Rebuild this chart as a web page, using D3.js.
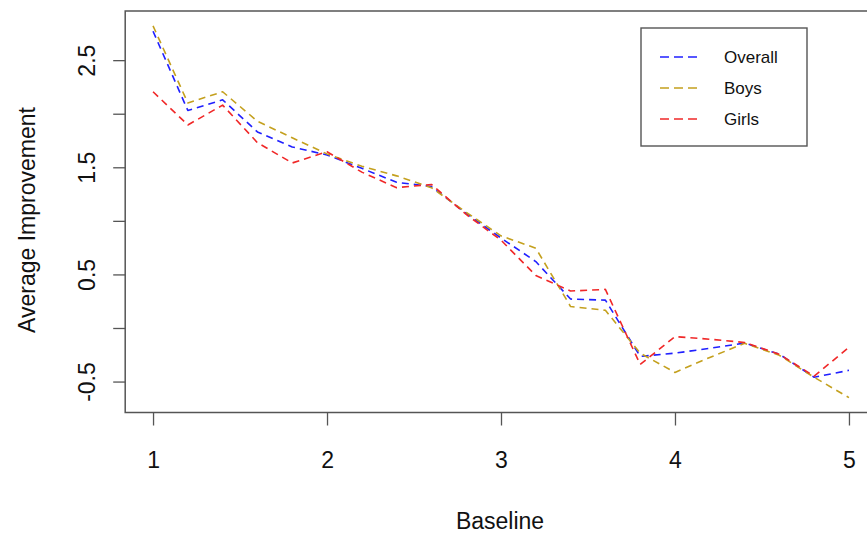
<!DOCTYPE html>
<html>
<head>
<meta charset="utf-8">
<script src="https://cdn.jsdelivr.net/npm/d3@7"></script>
<style>
  html, body { margin: 0; padding: 0; background: #fff; }
  svg { display: block; }
  text { font-family: "Liberation Sans", Arial, Helvetica, sans-serif; fill: #111; }
</style>
</head>
<body>
<svg id="chart" width="867" height="538"></svg>
<script>
// ---- data ----
const baseline = [1.0, 1.2, 1.4, 1.6, 1.8, 2.0, 2.2, 2.4, 2.6, 2.8, 3.0, 3.2, 3.4, 3.6, 3.8, 4.0, 4.2, 4.4, 4.6, 4.8, 5.0];
const overall = [2.77, 2.03, 2.13, 1.83, 1.69, 1.615, 1.49, 1.36, 1.32, 1.07, 0.84, 0.62, 0.27, 0.26, -0.265, -0.235, -0.19, -0.14, -0.245, -0.46, -0.395];
const boys    = [2.82, 2.10, 2.205, 1.93, 1.775, 1.625, 1.51, 1.42, 1.31, 1.08, 0.86, 0.745, 0.20, 0.165, -0.235, -0.415, -0.275, -0.143, -0.255, -0.46, -0.65];
const girls   = [2.205, 1.895, 2.08, 1.73, 1.54, 1.645, 1.455, 1.31, 1.34, 1.06, 0.82, 0.49, 0.345, 0.36, -0.34, -0.08, -0.105, -0.135, -0.245, -0.45, -0.18];
const seriesNames = ["Overall", "Boys", "Girls"];
const seriesColors = ["#2020ff", "#c4a01e", "#f02828"];
const xTicks = [1, 2, 3, 4, 5];
const yTicks = [-0.5, 0, 0.5, 1, 1.5, 2, 2.5];
const yTickLabels = ["-0.5", "", "0.5", "", "1.5", "", "2.5"];
const xLabel = "Baseline";
const yLabel = "Average Improvement";

// ---- layout ----
const svg = d3.select("#chart");
const plot = { left: 125.2, right: 876.8, top: 11, bottom: 412.5 };

function expand(ext) { const r = ext[1] - ext[0]; return [ext[0] - 0.04 * r, ext[1] + 0.04 * r]; }
const allY = overall.concat(boys, girls);
const x = d3.scaleLinear().domain(expand(d3.extent(baseline))).range([plot.left, plot.right]);
const y = d3.scaleLinear().domain(expand(d3.extent(allY))).range([plot.bottom, plot.top]);

const series = [overall, boys, girls];
const line = d3.line().x((d, i) => x(baseline[i])).y(d => y(d));

// lines
series.forEach((s, k) => {
  svg.append("path")
    .datum(s)
    .attr("d", line)
    .attr("fill", "none")
    .attr("stroke", seriesColors[k])
    .attr("stroke-width", 1.6)
    .attr("stroke-dasharray", "7,5")
    .attr("stroke-linejoin", "round");
});

// box
svg.append("rect")
  .attr("x", plot.left).attr("y", plot.top)
  .attr("width", plot.right - plot.left).attr("height", plot.bottom - plot.top)
  .attr("fill", "none").attr("stroke", "#555").attr("stroke-width", 1.5);

// x axis
const xAxis = d3.axisBottom(x).tickValues(xTicks).tickSize(13).tickPadding(26).tickFormat(d3.format("d"));
const gx = svg.append("g").attr("transform", `translate(0,${plot.bottom})`).call(xAxis);
gx.select(".domain").remove();
gx.selectAll(".tick line").attr("stroke", "#555").attr("stroke-width", 1.3);
gx.selectAll(".tick text").style("font-size", "23px").attr("fill", "#111")
  .style("font-family", '"Liberation Sans", Arial, sans-serif');

// y axis
const yAxis = d3.axisLeft(y).tickValues(yTicks).tickSize(12).tickFormat((d, i) => yTickLabels[i]);
const gy = svg.append("g").attr("transform", `translate(${plot.left},0)`).call(yAxis);
gy.select(".domain").remove();
gy.selectAll(".tick line").attr("stroke", "#555").attr("stroke-width", 1.3);
gy.selectAll(".tick text")
  .style("font-size", "23px").attr("fill", "#111")
  .style("font-family", '"Liberation Sans", Arial, sans-serif')
  .attr("text-anchor", "middle")
  .attr("x", 0).attr("dy", null)
  .attr("transform", "translate(-38,0) rotate(-90)")
  .attr("y", 8);

// axis titles
svg.append("text").attr("x", 500).attr("y", 529).attr("text-anchor", "middle")
  .style("font-size", "23px").text(xLabel);
svg.append("text").attr("transform", "translate(35,220) rotate(-90)").attr("text-anchor", "middle")
  .style("font-size", "23px").text(yLabel);

// legend
const lg = svg.append("g");
lg.append("rect").attr("x", 641).attr("y", 28).attr("width", 166).attr("height", 118)
  .attr("fill", "#fff").attr("stroke", "#555").attr("stroke-width", 1.4);
seriesNames.forEach((name, k) => {
  const yy = 57 + k * 31;
  lg.append("line").attr("x1", 660).attr("x2", 702).attr("y1", yy).attr("y2", yy)
    .attr("stroke", seriesColors[k]).attr("stroke-width", 1.6).attr("stroke-dasharray", "9,5");
  lg.append("text").attr("x", 724).attr("y", yy + 6).style("font-size", "17px").text(name);
});
</script>
</body>
</html>
